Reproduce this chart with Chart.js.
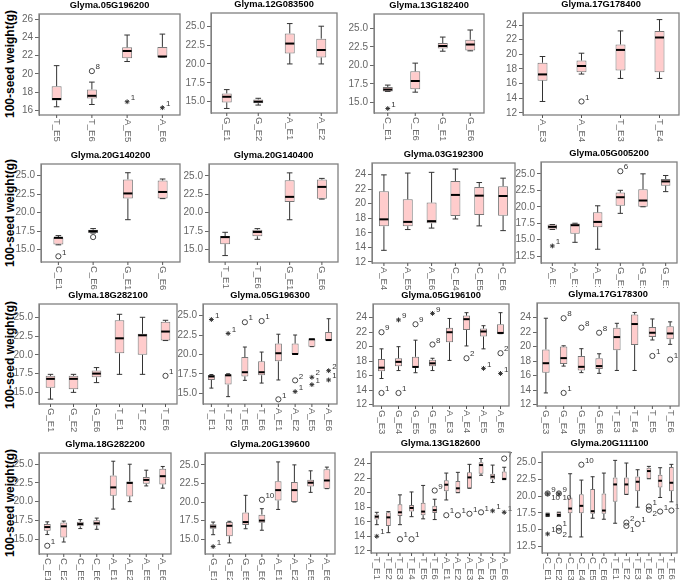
<!DOCTYPE html>
<html>
<head>
<meta charset="utf-8">
<script src="https://cdn.jsdelivr.net/npm/chart.js@4.4.1/dist/chart.umd.min.js"></script>
<style>
  body { margin: 0; background: #fff; width: 685px; height: 580px; overflow: hidden; position: relative; font-family: "Liberation Sans", Arial, sans-serif; }
  .panel { position: absolute; }
  .ytitle { position: absolute; font-weight: bold; font-size: 12px; white-space: nowrap; transform: translate(-50%, -50%) rotate(-90deg); }
</style>
</head>
<body>
<script>
// Box stats are [min, q1, median, q3, max]; outliers are [category index, value, marker, case label]
const titles = [
  "Glyma.05G196200", "Glyma.12G083500", "Glyma.13G182400", "Glyma.17G178400",
  "Glyma.20G140200", "Glyma.20G140400", "Glyma.03G192300", "Glyma.05G005200",
  "Glyma.18G282100", "Glyma.05G196300", "Glyma.05G196100", "Glyma.17G178300",
  "Glyma.18G282200", "Glyma.20G139600", "Glyma.13G182600", "Glyma.20G111100"
];

const ticksA = [16, 18, 20, 22, 24, 26];
const ticksB = [15, 17.5, 20, 22.5, 25];
const ticksC = [12, 14, 16, 18, 20, 22, 24];
const ticksD = [12.5, 15, 17.5, 20, 22.5, 25];

const cats1 = ["T_E5", "T_E6", "A_E5", "A_E6"];
const box1 = [[16.4, 17.1, 17.25, 18.65, 20.9], [16.65, 17.3, 17.6, 18.3, 19.1], [21.35, 21.7, 22.5, 22.9, 24.25], [21.85, 21.85, 21.9, 22.95, 24.35]];
const out1 = [[1, 20.3, "o", "8"], [2, 16.95, "*", "1"], [3, 16.3, "*", "1"]];

const cats2 = ["G_E1", "G_E2", "A_E1", "A_E2"];
const box2 = [[14.1, 14.9, 15.65, 16.1, 16.6], [14.55, 14.8, 15.0, 15.3, 15.45], [20.0, 21.4, 22.7, 24.05, 25.35], [20.0, 20.85, 21.85, 23.35, 25.0]];
const out2 = [];

const cats3 = ["C_E1", "C_E6", "G_E1", "G_E6"];
const box3 = [[16.5, 16.5, 16.75, 17.1, 17.35], [16.4, 16.8, 17.9, 19.2, 20.3], [21.9, 22.25, 22.6, 23.0, 23.8], [21.95, 22.0, 22.8, 23.45, 24.75]];
const out3 = [[0, 14.2, "*", "1"]];

const cats4 = ["A_E3", "A_E4", "T_E3", "T_E4"];
const box4 = [[13.55, 16.4, 17.25, 18.85, 19.7], [17.3, 17.55, 18.4, 19.15, 20.15], [16.7, 17.8, 20.6, 21.35, 23.2], [16.7, 17.55, 22.3, 23.2, 24.75]];
const out4 = [[1, 13.55, "o", "1"]];

const cats5 = ["C_E1", "C_E6", "G_E1", "G_E6"];
const box5 = [[15.65, 15.7, 16.6, 16.65, 16.9], [17.25, 17.25, 17.5, 17.7, 17.85], [19.05, 21.9, 22.6, 24.5, 25.4], [21.9, 21.9, 22.8, 24.35, 24.55]];
const out5 = [[0, 14.1, "o", "1"], [1, 16.7, "o", ""]];

const cats6 = ["T_E1", "T_E6", "G_E1", "G_E6"];
const box6 = [[14.2, 15.75, 16.7, 16.85, 17.35], [16.4, 16.8, 17.4, 17.7, 17.85], [19.05, 21.45, 22.15, 24.4, 25.4], [21.85, 21.9, 23.5, 24.5, 24.65]];
const out6 = [];

const cats7 = ["A_E4", "A_E5", "A_E6", "C_E4", "C_E5", "C_E6"];
const box7 = [[13.6, 16.9, 17.85, 21.7, 23.95], [16.45, 16.9, 17.5, 20.6, 24.2], [16.65, 17.3, 17.6, 20.15, 24.3], [17.9, 18.3, 21.2, 23.1, 24.75], [16.95, 18.45, 21.1, 22.3, 22.9], [16.3, 18.35, 21.05, 22.4, 23.5]];
const out7 = [];

const cats8 = ["A_E:", "A_E:", "A_E:", "G_E:", "G_E:", "G_E:"];
const box8 = [[16.55, 16.55, 16.95, 17.3, 17.3], [14.6, 15.9, 17.2, 17.45, 17.5], [13.55, 16.9, 17.7, 19.15, 20.15], [19.0, 20.15, 21.45, 22.15, 22.5], [20.0, 20.0, 20.95, 22.65, 25.0], [22.3, 23.2, 23.85, 24.2, 24.75]];
const out8 = [[0, 14.05, "*", "1"], [3, 25.4, "o", "6"]];

const cats9 = ["G_E1", "G_E2", "G_E6", "T_E1", "T_E2", "T_E6"];
const box9 = [[14.1, 15.6, 16.8, 17.2, 17.4], [15.0, 15.4, 16.8, 17.2, 17.4], [16.3, 17.0, 17.5, 17.9, 18.3], [17.4, 20.2, 22.2, 24.6, 25.4], [17.4, 20.0, 22.6, 22.8, 25.0], [21.9, 21.9, 23.1, 24.4, 24.6]];
const out9 = [[5, 17.2, "o", "1"]];

const cats10 = ["T_E1", "T_E2", "T_E5", "T_E6", "A_E1", "A_E2", "A_E5", "A_E6"];
const box10 = [[15.65, 16.7, 17.15, 17.35, 17.4], [14.55, 16.1, 17.3, 17.45, 17.5], [16.65, 17.15, 17.7, 19.65, 20.95], [16.3, 17.3, 17.7, 19.1, 20.3], [16.7, 19.1, 20.15, 21.4, 22.6], [20.05, 20.05, 20.05, 21.4, 22.5], [21.0, 21.0, 21.95, 21.95, 21.95], [21.85, 21.85, 21.85, 22.9, 24.6]];
const out10 = [[0, 24.5, "*", "1"], [1, 22.7, "*", "1"], [2, 24.15, "o", "1"], [3, 24.3, "o", "1"], [4, 14.2, "o", "1"], [5, 16.65, "o", "2"], [5, 15.2, "*", "1"], [6, 17.05, "*", "2"], [6, 16.1, "*", "1"], [7, 17.9, "*", "2"], [7, 16.7, "*", "1"]];

const cats11 = ["G_E3", "G_E4", "G_E5", "G_E6", "A_E3", "A_E4", "A_E5", "A_E6"];
const box11 = [[15.6, 16.6, 17.1, 18.3, 19.7], [16.7, 17.3, 17.9, 18.4, 20.0], [16.4, 17.1, 17.2, 18.6, 20.9], [16.7, 17.3, 17.7, 18.2, 18.4], [18.1, 20.6, 22.0, 22.6, 23.9], [20.1, 22.3, 23.8, 24.3, 24.7], [19.7, 21.4, 22.1, 22.5, 22.9], [21.8, 21.8, 21.9, 23.1, 24.7]];
const out11 = [[0, 22.0, "o", "9"], [0, 13.6, "o", "1"], [1, 23.7, "*", "9"], [1, 13.6, "o", "1"], [2, 23.1, "o", "9"], [3, 24.6, "*", "9"], [3, 20.3, "o", "8"], [5, 18.4, "o", "2"], [6, 17.0, "*", "1"], [7, 19.1, "o", "2"], [7, 16.3, "*", "1"]];

const cats12 = ["G_E3", "G_E4", "G_E5", "G_E6", "T_E3", "T_E4", "T_E5", "T_E6"];
const box12 = [[13.6, 16.4, 17.7, 19.6, 23.9], [17.3, 17.6, 18.4, 20.0, 20.1], [16.4, 16.7, 17.2, 18.7, 19.7], [16.3, 16.9, 17.3, 18.4, 19.0], [16.7, 19.5, 21.3, 22.6, 23.2], [16.7, 20.2, 23.1, 24.4, 24.7], [20.9, 21.3, 21.9, 22.7, 23.8], [20.3, 21.0, 21.8, 22.8, 23.4]];
const out12 = [[1, 23.9, "o", "8"], [1, 13.6, "o", "1"], [2, 22.6, "o", "8"], [3, 21.9, "o", "8"], [6, 18.7, "o", "1"], [7, 18.2, "o", "1"]];

const cats13 = ["C_E1", "C_E2", "C_E5", "C_E6", "A_E1", "A_E2", "A_E5", "A_E6"];
const box13 = [[15.6, 16.1, 16.6, 17.0, 17.3], [14.6, 15.2, 16.7, 17.2, 17.4], [16.4, 16.7, 17.0, 17.3, 17.6], [16.3, 16.8, 17.1, 17.5, 17.8], [19.0, 20.8, 21.9, 23.5, 25.4], [20.0, 20.7, 22.5, 22.7, 25.0], [22.1, 22.4, 22.9, 23.3, 24.2], [21.8, 22.3, 23.4, 24.4, 24.7]];
const out13 = [[0, 14.1, "o", "1"]];

const cats14 = ["G_E1", "G_E2", "G_E5", "G_E6", "A_E1", "A_E2", "A_E5", "A_E6"];
const box14 = [[15.6, 16.4, 16.7, 17.0, 17.3], [14.5, 15.4, 16.8, 17.3, 17.4], [16.4, 16.9, 17.3, 18.6, 20.9], [16.2, 17.2, 17.5, 18.3, 19.1], [19.0, 20.2, 21.6, 22.8, 25.4], [20.0, 20.0, 21.6, 22.7, 25.0], [21.3, 22.1, 22.6, 23.0, 24.2], [21.8, 21.8, 22.9, 24.4, 24.7]];
const out14 = [[0, 14.0, "*", "1"], [3, 20.3, "o", "10"]];

const cats15 = ["T_E1", "T_E2", "T_E3", "T_E4", "T_E5", "T_E6", "A_E1", "A_E2", "A_E3", "A_E4", "A_E5", "A_E6"];
const box15 = [[15.6, 16.3, 16.7, 17.0, 17.3], [14.5, 15.4, 16.6, 17.3, 17.4], [15.6, 16.8, 17.3, 18.4, 19.7], [16.7, 17.4, 17.9, 18.3, 20.1], [16.4, 16.9, 17.4, 18.6, 21.0], [16.3, 17.2, 17.6, 18.2, 19.1], [19.0, 20.2, 21.1, 21.7, 22.7], [20.0, 20.0, 20.6, 21.6, 22.8], [20.6, 20.6, 22.1, 22.8, 23.9], [22.4, 22.6, 23.8, 24.2, 24.7], [21.4, 21.8, 22.2, 22.6, 23.8], [21.8, 21.8, 21.9, 22.9, 23.5]];
const out15 = [[0, 14.0, "*", "1"], [2, 13.6, "o", "1"], [3, 13.6, "o", "1"], [5, 20.3, "o", "9"], [6, 16.9, "o", "1"], [7, 16.9, "o", "1"], [8, 17.1, "o", "1"], [9, 17.3, "o", "1"], [10, 17.5, "*", "1"], [11, 24.7, "o", "7"], [11, 17.3, "*", "1"]];

const cats16 = ["C_E1", "C_E2", "C_E3", "C_E4", "C_E5", "C_E6", "T_E1", "T_E2", "T_E3", "T_E4", "T_E5", "T_E6"];
const box16 = [[16.95, 16.95, 17.2, 17.45, 17.45], [16.95, 16.95, 17.2, 17.6, 17.6], [13.9, 17.45, 18.15, 19.8, 23.35], [13.9, 17.45, 18.55, 20.3, 22.4], [16.7, 17.35, 17.75, 21.05, 22.9], [16.55, 17.35, 17.85, 20.4, 23.45], [15.95, 19.15, 21.75, 22.8, 25.35], [20.25, 20.25, 21.75, 22.8, 24.95], [18.35, 20.75, 22.15, 22.95, 23.95], [22.6, 22.6, 23.75, 24.25, 24.45], [19.8, 21.3, 22.3, 23.2, 24.25], [19.15, 20.75, 22.0, 24.35, 24.75]];
const out16 = [[0, 20.4, "o", "9"], [0, 20.35, "*", "10"], [0, 14.35, "*", "1"], [1, 20.4, "o", "9"], [1, 20.35, "*", "10"], [1, 15.3, "o", "1"], [1, 14.8, "o", "2"], [3, 24.7, "o", "10"], [7, 16.05, "o", "2"], [7, 15.55, "o", "1"], [8, 15.85, "o", "1"], [9, 18.45, "o", "1"], [9, 17.95, "o", "2"], [10, 17.7, "o", "1"], [11, 17.85, "o", "1"]];

const allCats = [cats1, cats2, cats3, cats4, cats5, cats6, cats7, cats8, cats9, cats10, cats11, cats12, cats13, cats14, cats15, cats16];
const allBoxes = [box1, box2, box3, box4, box5, box6, box7, box8, box9, box10, box11, box12, box13, box14, box15, box16];
const allOut = [out1, out2, out3, out4, out5, out6, out7, out8, out9, out10, out11, out12, out13, out14, out15, out16];
const allTicks = [ticksA, ticksB, ticksB, ticksC, ticksB, ticksB, ticksC, ticksD, ticksB, ticksB, ticksC, ticksC, ticksB, ticksB, ticksC, ticksD];
const yRanges = [
  [15.5, 26.55], [13.5, 26.75], [13.6, 26.9], [11.7, 25.65],
  [13.33, 26.58], [13.33, 26.6], [11.86, 25.58], [11.46, 26.8],
  [13.45, 26.77], [13.6, 26.5], [11.8, 25.9], [11.8, 26.0],
  [13.0, 26.5], [13.0, 26.6], [11.7, 25.6], [11.5, 26.6]
];

// plot frame of each panel in page pixels: left, top, right, bottom
const frames = [
  [39, 14, 183, 115], [211, 13, 337, 113], [374, 14, 487, 113], [523, 13, 682, 115],
  [41, 164, 183, 262], [209, 164, 338, 262], [372, 163, 515, 263], [541, 162, 680, 263],
  [39, 304, 180, 404], [203, 304, 340, 404], [373, 304, 512, 406], [537, 303, 682, 406],
  [39, 453, 174, 554], [205, 453, 338, 554], [371, 452, 513, 553], [542, 452, 680, 553]
];
const rowCenters = [64, 213, 355, 503];

const FONT = "'Liberation Sans', Arial, sans-serif";
Chart.defaults.font.family = FONT;
const AXW = 34, TOP = 16, BOT = 40;

rowCenters.forEach((y) => {
  const d = document.createElement("div");
  d.className = "ytitle";
  d.style.left = "10px";
  d.style.top = y + "px";
  d.textContent = "100-seed weight(g)";
  document.body.appendChild(d);
});

function makePlugin(k) {
  const cats = allCats[k], boxes = allBoxes[k], outs = allOut[k];
  return {
    id: "boxplot" + k,
    afterDatasetsDraw(chart) {
      const ctx = chart.ctx, a = chart.chartArea;
      const xs = chart.scales.x, ys = chart.scales.y;
      const bars = chart.getDatasetMeta(0).data;
      ctx.save();
      boxes.forEach((b, i) => {
        const x = xs.getPixelForValue(i);
        const w = bars[i].width;
        const cap = Math.max(2, w * 0.28);
        const yMin = ys.getPixelForValue(b[0]), yQ1 = ys.getPixelForValue(b[1]);
        const yQ3 = ys.getPixelForValue(b[3]), yMax = ys.getPixelForValue(b[4]);
        ctx.strokeStyle = "#333";
        ctx.lineWidth = 1;
        ctx.beginPath();
        ctx.moveTo(x, yQ3); ctx.lineTo(x, yMax);
        ctx.moveTo(x, yQ1); ctx.lineTo(x, yMin);
        ctx.moveTo(x - cap, yMax); ctx.lineTo(x + cap, yMax);
        ctx.moveTo(x - cap, yMin); ctx.lineTo(x + cap, yMin);
        ctx.stroke();
        const yMed = ys.getPixelForValue(b[2]);
        ctx.strokeStyle = "#000";
        ctx.lineWidth = 2;
        ctx.beginPath();
        ctx.moveTo(x - w / 2 + 0.5, yMed); ctx.lineTo(x + w / 2 - 0.5, yMed);
        ctx.stroke();
      });

      // case numbers beside outliers
      ctx.fillStyle = "#333";
      ctx.font = "8px " + FONT;
      ctx.textAlign = "left";
      ctx.textBaseline = "middle";
      outs.forEach((o) => {
        if (!o[3]) return;
        const lower = outs.some((p) => p !== o && p[0] === o[0] && p[1] > o[1] && p[1] - o[1] < 0.6);
        const x = xs.getPixelForValue(o[0]) + 3.5;
        const y = ys.getPixelForValue(o[1]) + (lower ? 4 : -4);
        ctx.fillText(o[3], x, y);
      });

      // frame
      ctx.strokeStyle = "#808080";
      ctx.lineWidth = 1.3;
      ctx.strokeRect(a.left, a.top, a.right - a.left, a.bottom - a.top);

      // title
      ctx.fillStyle = "#000";
      ctx.font = "bold 9.3px " + FONT;
      ctx.textAlign = "center";
      ctx.fillText(titles[k], (a.left + a.right) / 2, a.top - 9);

      // category labels, turned to read downwards
      ctx.font = "9.5px " + FONT;
      ctx.fillStyle = "#666";
      ctx.strokeStyle = "#555";
      ctx.lineWidth = 1;
      ctx.textAlign = "left";
      cats.forEach((c, i) => {
        const x = xs.getPixelForValue(i);
        ctx.beginPath();
        ctx.moveTo(x, a.bottom); ctx.lineTo(x, a.bottom + 3);
        ctx.stroke();
        ctx.save();
        ctx.translate(x, a.bottom + 4);
        ctx.rotate(Math.PI / 2);
        ctx.fillText(c, 0, 0);
        ctx.restore();
      });
      ctx.restore();
    }
  };
}

frames.forEach((f, k) => {
  const div = document.createElement("div");
  div.className = "panel";
  div.style.left = (f[0] - AXW) + "px";
  div.style.top = (f[1] - TOP) + "px";
  div.style.width = (f[2] - f[0] + AXW + 2) + "px";
  div.style.height = (f[3] - f[1] + TOP + BOT) + "px";
  const cv = document.createElement("canvas");
  div.appendChild(cv);
  document.body.appendChild(div);

  const boxes = allBoxes[k], outs = allOut[k], ticks = allTicks[k];
  const decimals = ticks.some((t) => t % 1 !== 0) ? 1 : 0;

  new Chart(cv, {
    data: {
      labels: allCats[k],
      datasets: [
        {
          type: "bar",
          data: boxes.map((b) => [b[1], b[3]]),
          backgroundColor: "#ffcccc",
          borderColor: "#777",
          borderWidth: 1,
          borderSkipped: false,
          barPercentage: 0.42,
          categoryPercentage: 1,
          maxBarThickness: 10
        },
        {
          type: "scatter",
          parsing: false,
          data: outs.filter((o) => o[2] === "o").map((o) => ({ x: o[0], y: o[1] })),
          pointStyle: "circle",
          radius: 2.6,
          borderColor: "#444",
          backgroundColor: "rgba(0,0,0,0)",
          borderWidth: 1
        },
        {
          type: "scatter",
          parsing: false,
          data: outs.filter((o) => o[2] === "*").map((o) => ({ x: o[0], y: o[1] })),
          pointStyle: "star",
          radius: 2.4,
          borderColor: "#333",
          borderWidth: 1
        }
      ]
    },
    options: {
      responsive: true,
      maintainAspectRatio: false,
      animation: false,
      events: [],
      layout: { padding: { top: TOP, right: 2, left: 0, bottom: 0 } },
      plugins: { legend: { display: false }, tooltip: { enabled: false }, title: { display: false } },
      scales: {
        x: {
          type: "category",
          offset: true,
          grid: { display: false },
          border: { display: false },
          ticks: { display: false },
          afterFit: (s) => { s.height = BOT; }
        },
        y: {
          min: yRanges[k][0],
          max: yRanges[k][1],
          afterBuildTicks: (s) => { s.ticks = ticks.map((v) => ({ value: v })); },
          afterFit: (s) => { s.width = AXW; },
          ticks: {
            font: { size: 10 },
            color: "#666",
            padding: 2,
            callback: (v) => Number(v).toFixed(decimals)
          },
          grid: { drawOnChartArea: false, drawTicks: true, tickLength: 4, color: "#666" },
          border: { display: true, color: "#808080" }
        }
      }
    },
    plugins: [makePlugin(k)]
  });
});
</script>
</body>
</html>
